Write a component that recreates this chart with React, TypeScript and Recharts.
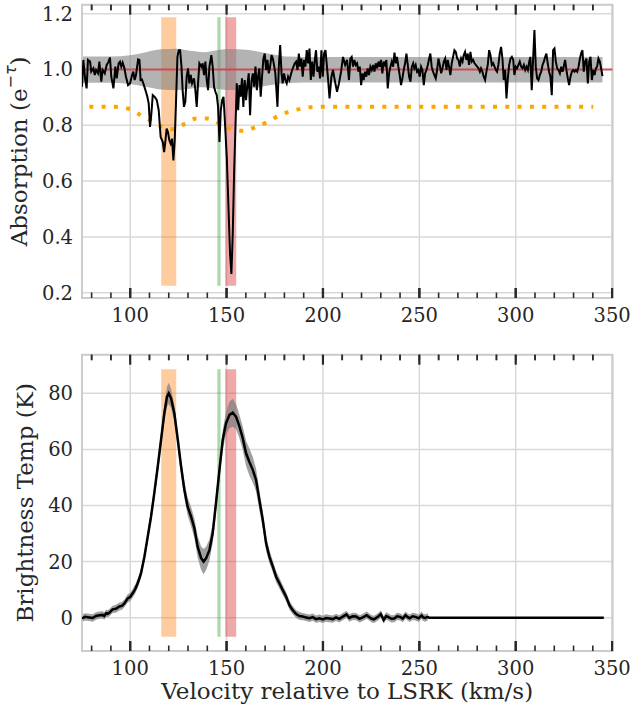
import React from 'react';
import {
  ComposedChart,
  Line,
  Area,
  XAxis,
  YAxis,
  CartesianGrid,
  ReferenceArea,
  ReferenceLine,
  Label,
} from 'recharts';

// ---------- styling constants ----------
const FONT = "'DejaVu Serif', serif";
const INK = '#262626';
const FRAME = '#cccccc';
const GRID = '#d9d9d9';
const TICK = '#2a2a2a';
const TICK_FONT = 19.5;
const LABEL_FONT = 23;

// ---------- layout ----------
const W = 633;
const TOP_H = 340;
const TOP_MARGIN = { top: 3.7, right: 20.5, bottom: 0, left: 0 };
const TOP_XAXIS_H = 42;
const BOT_H = 372;
const BOT_MARGIN = { top: 13.7, right: 20.5, bottom: 0, left: 0 };
const BOT_XAXIS_H = 61;
const EDGE_AXIS_H = 1;
const YAXIS_W = 82;

// ---------- axes ----------
const X_DOMAIN: [number, number] = [75, 350.2];
const X_TICKS = [80, 90, 100, 110, 120, 130, 140, 150, 160, 170, 180, 190, 200, 210, 220, 230, 240, 250, 260, 270, 280, 290, 300, 310, 320, 330, 340];
const X_MAJOR = [100, 150, 200, 250, 300, 350];

const ABS_Y_DOMAIN: [number, number] = [0.181, 1.232];
const ABS_Y_TICKS = [0.2, 0.4, 0.6, 0.8, 1.0, 1.2];
const TB_Y_DOMAIN: [number, number] = [-11.87, 93.76];
const TB_Y_TICKS = [0, 20, 40, 60, 80];

// ---------- highlighted velocity ranges ----------
const ORANGE_BAND = [116.1, 123.9];
const GREEN_BAND = [145.2, 146.9];
const RED_BAND = [149.3, 155.0];
const ABS_BAND_Y = [0.225, 1.187];
const TB_BAND_Y = [-6.8, 88.6];
const UNITY = 1.0;

// ---------- absorption spectrum (e^-tau) ----------
const ABS_VEL = [
  75.0, 75.7, 76.7, 77.4, 78.1, 79.2, 79.8, 80.9, 81.6, 82.3, 83.3, 84.0, 85.0, 85.7, 86.8, 87.8, 88.8, 89.5, 90.2, 91.3,
  92.3, 93.0, 94.0, 94.7, 95.4, 96.1, 97.0, 97.8, 98.9, 99.9, 101.0, 101.6, 102.3, 103.0, 104.1, 104.8, 105.4, 106.1, 106.8, 107.9,
  108.9, 109.6, 110.3, 111.0, 111.7, 112.7, 113.8, 114.8, 115.8, 116.9, 117.6, 118.3, 118.9, 119.6, 120.3, 121.0, 121.7, 122.4, 123.1, 123.8,
  124.5, 125.2, 125.9, 126.6, 127.2, 127.9, 128.6, 129.3, 130.0, 130.7, 131.4, 132.1, 133.1, 133.8, 134.5, 135.2, 135.9, 136.9, 137.6, 138.3,
  139.0, 139.7, 140.4, 141.1, 142.1, 142.8, 143.5, 144.2, 144.9, 145.6, 146.3, 147.0, 147.7, 148.4, 149.0, 150.1, 151.1, 151.8, 152.5, 153.2,
  153.9, 154.6, 155.3, 156.0, 156.7, 157.3, 158.0, 158.7, 159.4, 160.1, 160.8, 161.5, 162.2, 162.9, 163.6, 164.3, 165.0, 165.7, 166.3, 167.0,
  167.7, 168.4, 169.1, 169.8, 170.5, 171.2, 171.9, 172.6, 173.3, 174.0, 174.6, 175.3, 176.4, 177.1, 177.8, 178.5, 179.1, 179.8, 180.5, 181.2,
  181.9, 182.6, 183.3, 184.0, 184.7, 185.4, 186.1, 186.8, 187.5, 188.1, 188.8, 189.5, 190.2, 190.9, 191.6, 192.3, 193.0, 193.7, 194.4, 195.1,
  195.8, 196.4, 197.1, 197.8, 198.5, 199.2, 199.9, 200.6, 201.3, 202.0, 202.7, 203.4,
  204.4, 205.2, 206.1, 207.3, 208.3, 209.4, 210.4, 211.5, 212.5, 213.5, 214.2, 214.9, 215.6, 216.3, 217.0, 217.7, 218.4, 219.1, 219.8, 220.5,
  221.1, 221.8, 222.5, 223.2, 223.9, 224.6, 225.3, 226.0, 226.7, 227.4, 228.1, 228.8, 229.5, 230.1, 230.8, 231.5, 232.2, 232.9, 233.6, 234.3,
  235.0, 235.7, 236.4, 237.1, 237.8, 238.4, 239.1, 239.8, 240.5, 241.2, 241.9, 242.6, 243.3, 244.0, 244.7, 245.4, 246.1, 246.8, 247.4, 248.1,
  248.8, 249.5, 250.2, 250.9, 251.6, 252.3, 253.0, 253.7, 254.4, 255.1, 255.7, 256.4, 257.1, 257.8, 258.5, 259.2, 259.9, 260.6, 261.3, 262.0,
  262.7, 263.4, 264.1, 264.7, 265.4, 266.1, 266.8, 267.5, 268.2, 268.9, 269.6, 270.3, 271.0, 271.7, 272.4, 273.0, 273.7, 274.4, 275.1, 275.8,
  276.5, 277.2, 277.9, 278.6, 279.3, 280.0, 280.7, 281.4, 282.0, 282.7, 283.4, 284.1, 284.8, 285.5, 286.2, 286.9, 287.6, 288.3, 289.0, 289.7,
  290.3, 291.0, 291.7, 292.4, 293.1, 293.8, 294.5, 295.2, 295.9, 296.6, 297.3, 298.0, 298.7, 299.3, 300.0, 300.7, 301.4, 302.1, 302.8, 303.5,
  304.2, 304.9, 305.6, 306.3, 307.0, 307.6, 308.3, 309.0, 309.7, 310.4, 311.1, 311.8, 312.5, 313.2, 313.9, 314.6, 315.3, 315.9, 316.6, 317.3,
  318.0, 318.7, 319.4, 320.1, 320.8, 321.5, 322.2, 322.9, 323.6, 324.3, 324.9, 325.6, 326.3, 327.0, 327.7, 328.4, 329.1, 329.8, 330.5, 331.2,
  331.9, 332.6, 333.3, 333.9, 334.6, 335.3, 336.0, 336.7, 337.4, 338.1, 338.8, 339.5, 340.2, 340.9, 341.6, 342.2, 342.9, 343.6, 344.3, 345.0,
];
const ABS_VAL = [
  0.938, 1.034, 0.962, 0.932, 1.034, 1.028, 0.992, 1.004, 0.980, 0.998, 0.986, 1.028, 0.956, 0.998, 0.986, 1.016, 1.028, 1.043, 0.974, 0.932,
  1.010, 0.968, 1.022, 1.028, 1.010, 1.024, 1.004, 0.974, 0.944, 0.950, 0.980, 0.992, 0.962, 0.980, 1.036, 1.034, 0.962, 0.964, 0.950, 0.926,
  0.902, 0.878, 0.794, 0.842, 0.908, 0.902, 0.890, 0.854, 0.758, 0.740, 0.704, 0.746, 0.788, 0.776, 0.746, 0.734, 0.752, 0.674, 0.746, 0.890,
  1.045, 1.069, 1.069, 1.010, 0.926, 0.866, 0.884, 0.974, 1.004, 0.950, 0.980, 0.950, 0.968, 0.926, 0.866, 0.950, 1.022, 1.010, 1.022, 0.980,
  1.028, 0.962, 0.926, 1.010, 1.051, 1.010, 0.938, 0.920, 0.908, 0.866, 0.740, 0.854, 0.890, 0.902, 0.830, 0.686, 0.483, 0.339, 0.267, 0.411,
  0.627, 0.794, 0.950, 0.854, 0.944, 0.902, 0.968, 0.866, 0.962, 0.890, 0.944, 0.986, 0.836, 0.956, 0.986, 0.938, 1.010, 0.926, 0.974, 1.004,
  0.902, 0.974, 1.039, 1.057, 0.998, 1.034, 0.986, 1.010, 1.051, 1.039, 1.016, 0.986, 0.866, 1.010, 1.087, 0.986, 0.950, 0.986, 0.962, 0.950,
  0.974, 0.962, 0.980, 0.998, 1.010, 1.022, 1.028, 0.998, 1.057, 1.010, 1.039, 0.974, 1.034, 1.010, 1.069, 1.022, 1.075, 0.962, 1.028, 0.974,
  1.034, 1.069, 0.992, 1.010, 0.968, 1.069, 0.974, 1.057, 1.069, 1.016, 0.962, 0.896,
  0.974, 0.998, 0.962, 0.920, 0.950, 0.992, 1.045, 1.016, 1.034, 0.962, 1.039, 1.045, 1.010, 1.034, 1.016, 1.022, 0.992, 1.010, 0.944, 0.986,
  0.962, 0.992, 0.974, 1.004, 0.980, 1.010, 0.998, 1.016, 0.992, 1.022, 1.004, 1.028, 1.010, 1.034, 0.986, 1.028, 1.016, 1.034, 0.932, 0.986,
  1.010, 1.028, 1.010, 1.060, 1.022, 1.045, 1.010, 0.980, 0.944, 0.968, 0.998, 1.022, 1.057, 1.016, 0.974, 0.956, 1.010, 1.022, 1.004, 1.016,
  0.992, 0.998, 0.974, 1.010, 0.998, 0.944, 0.986, 0.998, 1.016, 1.039, 1.057, 1.010, 0.992, 0.980, 0.968, 0.998, 1.039, 1.016, 0.986, 1.004,
  1.028, 1.039, 0.998, 1.034, 1.010, 0.980, 1.022, 1.045, 1.069, 1.063, 1.039, 1.034, 1.010, 1.039, 1.028, 1.051, 1.063, 1.034, 1.057, 1.016,
  1.063, 1.028, 1.034, 1.022, 1.016, 1.010, 1.004, 0.992, 1.004, 0.992, 0.974, 0.962, 0.992, 1.016, 1.069, 1.051, 1.016, 1.022, 1.010, 0.998,
  0.992, 1.016, 1.057, 1.081, 1.039, 0.962, 0.998, 0.896, 0.968, 1.016, 1.039, 1.045, 1.034, 0.980, 1.010, 1.004, 1.016, 1.028, 1.010, 1.004,
  1.016, 0.998, 1.010, 0.998, 1.028, 1.045, 0.926, 1.034, 1.141, 1.010, 0.968, 0.962, 0.980, 0.992, 1.016, 1.028, 1.045, 1.057, 1.022, 0.992,
  0.974, 0.908, 1.069, 1.075, 1.028, 1.004, 0.998, 0.986, 1.010, 0.992, 1.010, 1.034, 0.998, 0.968, 0.944, 0.974, 0.992, 0.998, 0.992, 0.998,
  0.992, 1.010, 1.039, 1.057, 1.069, 0.992, 1.028, 1.039, 0.950, 1.028, 1.045, 0.962, 0.998, 0.980, 1.004, 1.010, 1.039, 1.028, 1.004, 0.976,
];

// noise envelope of the absorption spectrum
const ENV_VEL = [75, 90, 100, 108, 116, 124, 132, 138, 145, 152, 160, 168, 175, 182, 190, 345];
const ENV_LO = [0.952, 0.952, 0.948, 0.938, 0.928, 0.926, 0.932, 0.936, 0.930, 0.926, 0.928, 0.938, 0.946, 0.951, 0.953, 0.953];
const ENV_HI = [1.046, 1.046, 1.051, 1.062, 1.072, 1.074, 1.066, 1.062, 1.069, 1.073, 1.071, 1.062, 1.053, 1.046, 1.045, 1.045];

// dotted orange model curve
const MODEL_VEL = [78.8, 92.6, 98.7, 105.1, 110.8, 116.9, 122.1, 128.1, 134.2, 140.2, 146.3, 152.7, 158.4, 165.3, 171.4, 177.1, 183.0, 189.2, 195.6, 340.2];
const MODEL_VAL = [0.866, 0.866, 0.860, 0.838, 0.816, 0.794, 0.786, 0.804, 0.824, 0.824, 0.806, 0.786, 0.780, 0.794, 0.812, 0.834, 0.850, 0.860, 0.866, 0.866];

// ---------- emission spectrum (brightness temperature, K) ----------
const TB_VEL = [
  75.0, 76.6, 78.8, 80.5, 82.3, 84.0, 85.7, 86.6, 87.5, 88.3, 89.2, 90.9, 92.6, 94.4, 95.7, 97.0, 98.7, 100.0, 101.3, 102.6,
  103.9, 105.6, 107.4, 109.1, 110.8, 112.5, 114.3, 116.0, 117.7, 119.1, 120.0, 121.2, 122.9, 124.7, 126.4, 128.1, 129.8, 131.6, 133.3, 135.0,
  136.8, 138.1, 139.4, 141.1, 142.8, 144.5, 146.3, 148.0, 149.7, 151.5, 153.2, 154.9, 156.7, 158.4, 160.1, 161.8, 163.6, 165.3, 167.0, 168.8,
  170.5, 172.2, 174.0, 175.7, 177.4, 179.1, 180.9, 182.6, 184.3, 186.1, 187.8, 189.5, 191.2, 193.0, 194.7, 196.4, 198.2, 199.9, 201.6, 203.4,
  205.1, 206.8, 208.5, 210.3, 212.2, 213.7, 215.4, 217.2, 219.0, 220.7, 222.7, 224.1, 225.3, 226.5, 228.5, 230.0, 231.5, 232.8, 234.0, 235.5,
  237.0, 238.5, 240.0, 241.4, 242.8, 244.0, 245.0, 246.5, 248.0, 249.6, 251.2, 252.0, 253.0, 254.4, 255.0, 345.7,
];
const TB_VAL = [
  -0.2, 0.3, 0.1, -0.1, 0.6, 0.9, 1.0, 0.6, 1.6, 1.4, 1.8, 3.0, 3.2, 4.0, 4.2, 5.1, 6.9, 7.4, 8.7, 10.2,
  12.3, 15.8, 21.8, 28.9, 36.0, 44.4, 53.9, 63.4, 72.9, 78.8, 80.0, 78.2, 72.9, 63.4, 53.9, 45.6, 39.6, 36.0, 31.9, 25.3,
  21.2, 20.0, 21.2, 24.1, 30.1, 40.8, 52.7, 63.4, 69.3, 72.3, 73.1, 71.7, 68.1, 64.0, 58.6, 55.6, 52.7, 49.1, 42.0, 34.8,
  26.5, 21.8, 18.2, 14.6, 12.3, 9.9, 7.5, 4.5, 2.7, 1.3, 0.6, 0.4, 0.1, -0.2, 0.2, -0.5, -0.2, -0.6, -0.1, -0.3,
  -0.5, 0.1, -0.4, 0.4, 1.2, -0.1, 0.5, 0.4, -0.4, 0.1, 0.9, 0.2, -0.4, -0.6, 0.3, 1.3, -0.8, 0.6, 0.2, -0.4,
  -0.3, 0.5, 0.3, -0.3, 0.9, 0.2, -0.2, 0.5, 0.3, -0.2, 0.8, 0.1, -0.1, 0.3, 0, 0,
];
// 1-sigma uncertainty of the emission spectrum (only where it was measured)
const TB_ERR = [
  1.3, 1.3, 1.3, 1.3, 1.3, 1.3, 1.3, 1.3, 1.3, 1.3, 1.3, 1.3, 1.4, 1.4, 1.4, 1.4, 1.5, 1.5, 1.5, 1.6,
  1.6, 1.7, 1.8, 2.0, 2.2, 2.4, 2.6, 2.8, 3.0, 3.5, 3.8, 3.4, 3.0, 2.8, 2.8, 3.0, 3.2, 3.5, 3.5, 3.8,
  4.2, 4.5, 4.2, 3.8, 3.5, 3.2, 3.2, 3.5, 4.0, 4.8, 5.0, 4.5, 4.2, 4.2, 4.5, 4.8, 4.6, 4.0, 3.5, 3.0,
  2.6, 2.3, 2.1, 2.0, 1.9, 1.8, 1.7, 1.6, 1.5, 1.4, 1.4, 1.3, 1.3, 1.3, 1.3, 1.3, 1.3, 1.3, 1.3, 1.3,
  1.3, 1.3, 1.3, 1.3, 1.3, 1.3, 1.3, 1.3, 1.3, 1.3, 1.3, 1.3, 1.3, 1.3, 1.3, 1.3, 1.3, 1.3, 1.3, 1.3,
  1.3, 1.3, 1.3, 1.3, 1.3, 1.3, 1.3, 1.3, 1.3, 1.3, 1.3, 1.3, 1.3, 1.3,
];

// ---------- derived tables for the library ----------
const absData = ABS_VEL.map((v, i) => ({ v, y: ABS_VAL[i] }));
const envData = ENV_VEL.map((v, i) => ({ v, band: [ENV_LO[i], ENV_HI[i]] }));
const modelData = MODEL_VEL.map((v, i) => ({ v, y: MODEL_VAL[i] }));
const tbData = TB_VEL.map((v, i) => ({ v, y: TB_VAL[i] }));
const tbEnvData = TB_ERR.map((e, i) => ({ v: TB_VEL[i], band: [TB_VAL[i] - e, TB_VAL[i] + e] }));

// ---------- inward tick marks on the top and bottom frame edges ----------
const MINOR_LEN = 5.5;
const MAJOR_LEN = 10;
const LABEL_GAP = 17; // frame to centre of tick label

const edgeTicks = (domain: [number, number], plotHeight: number) => {
  const perPx = (domain[1] - domain[0]) / plotHeight;
  return X_TICKS.flatMap((t) => {
    const major = X_MAJOR.includes(t);
    const len = (major ? MAJOR_LEN : MINOR_LEN) * perPx;
    const sw = major ? 2.2 : 1.6;
    return [
      <ReferenceLine key={`b${t}`} segment={[{ x: t, y: domain[0] }, { x: t, y: domain[0] + len }]} stroke={TICK} strokeWidth={sw} />,
      <ReferenceLine key={`t${t}`} segment={[{ x: t, y: domain[1] - len }, { x: t, y: domain[1] }]} stroke={TICK} strokeWidth={sw} />,
    ];
  });
};

const EmptyTick = () => null;
const xTickStyle = { fontSize: TICK_FONT, fill: INK, fontFamily: FONT };
const yTickStyle = { fontSize: TICK_FONT, fill: INK, fontFamily: FONT };

const AbsLabel = (props: any) => {
  const vb = props.viewBox || { y: 0, height: 0 };
  const cx = 19;
  const cy = vb.y + vb.height / 2;
  return (
    <text
      x={cx}
      y={cy}
      transform={`rotate(-90, ${cx}, ${cy})`}
      textAnchor="middle"
      dominantBaseline="central"
      fontSize={LABEL_FONT}
      fontFamily={FONT}
      fill={INK}
    >
      <tspan>Absorption (e</tspan>
      <tspan dy={-9} fontSize={16} fontFamily="'DejaVu Sans', sans-serif">−</tspan>
      <tspan fontSize={16} fontStyle="italic" fontFamily="'DejaVu Sans', sans-serif">τ</tspan>
      <tspan dy={9}>)</tspan>
    </text>
  );
};

const TbLabel = (props: any) => {
  const vb = props.viewBox || { y: 0, height: 0 };
  const cx = 25;
  const cy = vb.y + vb.height / 2;
  return (
    <text
      x={cx}
      y={cy}
      transform={`rotate(-90, ${cx}, ${cy})`}
      textAnchor="middle"
      dominantBaseline="central"
      fontSize={LABEL_FONT}
      fontFamily={FONT}
      fill={INK}
    >
      Brightness Temp (K)
    </text>
  );
};

const VelLabel = (props: any) => {
  const vb = props.viewBox || { x: 0, y: 0, width: 0 };
  return (
    <text
      x={vb.x + vb.width / 2}
      y={vb.y + 40}
      textAnchor="middle"
      dominantBaseline="central"
      fontSize={LABEL_FONT}
      fontFamily={FONT}
      fill={INK}
    >
      Velocity relative to LSRK (km/s)
    </text>
  );
};

const Bands = (yRange: number[]) => [
  <ReferenceArea key="o" x1={ORANGE_BAND[0]} x2={ORANGE_BAND[1]} y1={yRange[0]} y2={yRange[1]} fill="#ff7f0e" fillOpacity={0.4} stroke="none" />,
  <ReferenceArea key="g" x1={GREEN_BAND[0]} x2={GREEN_BAND[1]} y1={yRange[0]} y2={yRange[1]} fill="#2ca02c" fillOpacity={0.4} stroke="none" />,
  <ReferenceArea key="r" x1={RED_BAND[0]} x2={RED_BAND[1]} y1={yRange[0]} y2={yRange[1]} fill="#d62728" fillOpacity={0.4} stroke="none" />,
];

// bottom axis: labels at the major ticks plus native inward major tick marks
const MainXAxis = (height: number, withTitle: boolean) => (
  <XAxis
    dataKey="v"
    type="number"
    domain={X_DOMAIN}
    ticks={X_MAJOR}
    interval={0}
    allowDataOverflow
    height={height}
    tickSize={-MAJOR_LEN}
    tickMargin={MAJOR_LEN + LABEL_GAP - 6.7}
    tickLine={{ stroke: TICK, strokeWidth: 2.2 }}
    stroke={TICK}
    axisLine={false}
    tick={xTickStyle}
  >
    {withTitle ? <Label content={<VelLabel />} /> : null}
  </XAxis>
);

// top axis: a 1px strip that carries the native inward minor tick marks
const TopXAxis = () => (
  <XAxis
    xAxisId="top"
    orientation="top"
    dataKey="v"
    type="number"
    domain={X_DOMAIN}
    ticks={X_TICKS}
    interval={0}
    allowDataOverflow
    height={EDGE_AXIS_H}
    tickSize={-MINOR_LEN}
    tickLine={{ stroke: TICK, strokeWidth: 1.6 }}
    stroke={TICK}
    axisLine={false}
    tick={<EmptyTick />}
  />
);

const GridXAxis = () => (
  <XAxis xAxisId="grid" dataKey="v" type="number" domain={X_DOMAIN} ticks={X_MAJOR} hide height={0} allowDataOverflow />
);

export default function App() {
  const topPlotH = TOP_H - TOP_MARGIN.top - TOP_MARGIN.bottom - TOP_XAXIS_H - EDGE_AXIS_H;
  const botPlotH = BOT_H - BOT_MARGIN.top - BOT_MARGIN.bottom - BOT_XAXIS_H - EDGE_AXIS_H;
  return (
    <div style={{ position: 'absolute', left: 0, top: 0, width: W, height: 712, background: '#fff' }}>
      {/* ---------- top: absorption ---------- */}
      <ComposedChart width={W} height={TOP_H} margin={TOP_MARGIN}>
        {GridXAxis()}
        <CartesianGrid xAxisId="grid" stroke={GRID} strokeWidth={1.5} />
        <YAxis
          type="number"
          domain={ABS_Y_DOMAIN}
          ticks={ABS_Y_TICKS}
          allowDataOverflow
          width={YAXIS_W}
          tickSize={0}
          tickMargin={9}
          axisLine={false}
          tickLine={false}
          tick={yTickStyle}
          tickFormatter={(t: number) => t.toFixed(1)}
        >
          <Label content={<AbsLabel />} />
        </YAxis>
        {Bands(ABS_BAND_Y)}
        <Area data={envData} dataKey="band" type="monotone" fill="#808080" fillOpacity={0.6} stroke="none" isAnimationActive={false} />
        <ReferenceLine y={UNITY} stroke="#d0454c" strokeWidth={2} strokeOpacity={0.9} />
        <Line data={modelData} dataKey="y" type="monotone" stroke="#ffa500" strokeWidth={4} strokeDasharray="4 8.3" dot={false} activeDot={false} isAnimationActive={false} />
        <Line data={absData} dataKey="y" type="linear" stroke="#000000" strokeWidth={2} dot={false} activeDot={false} isAnimationActive={false} />
        <ReferenceArea x1={X_DOMAIN[0]} x2={X_DOMAIN[1]} y1={ABS_Y_DOMAIN[0]} y2={ABS_Y_DOMAIN[1]} fill="none" stroke={FRAME} strokeWidth={2} />
        {edgeTicks(ABS_Y_DOMAIN, topPlotH)}
        {MainXAxis(TOP_XAXIS_H, false)}
        {TopXAxis()}
      </ComposedChart>

      {/* ---------- bottom: emission ---------- */}
      <ComposedChart width={W} height={BOT_H} margin={BOT_MARGIN}>
        {GridXAxis()}
        <CartesianGrid xAxisId="grid" stroke={GRID} strokeWidth={1.5} />
        <YAxis
          type="number"
          domain={TB_Y_DOMAIN}
          ticks={TB_Y_TICKS}
          allowDataOverflow
          width={YAXIS_W}
          tickSize={0}
          tickMargin={9}
          axisLine={false}
          tickLine={false}
          tick={yTickStyle}
        >
          <Label content={<TbLabel />} />
        </YAxis>
        {Bands(TB_BAND_Y)}
        <Area data={tbEnvData} dataKey="band" type="linear" fill="#808080" fillOpacity={0.75} stroke="none" isAnimationActive={false} />
        <Line data={tbData} dataKey="y" type="linear" stroke="#000000" strokeWidth={2.5} dot={false} activeDot={false} isAnimationActive={false} />
        <ReferenceArea x1={X_DOMAIN[0]} x2={X_DOMAIN[1]} y1={TB_Y_DOMAIN[0]} y2={TB_Y_DOMAIN[1]} fill="none" stroke={FRAME} strokeWidth={2} />
        {edgeTicks(TB_Y_DOMAIN, botPlotH)}
        {MainXAxis(BOT_XAXIS_H, true)}
        {TopXAxis()}
      </ComposedChart>
    </div>
  );
}
